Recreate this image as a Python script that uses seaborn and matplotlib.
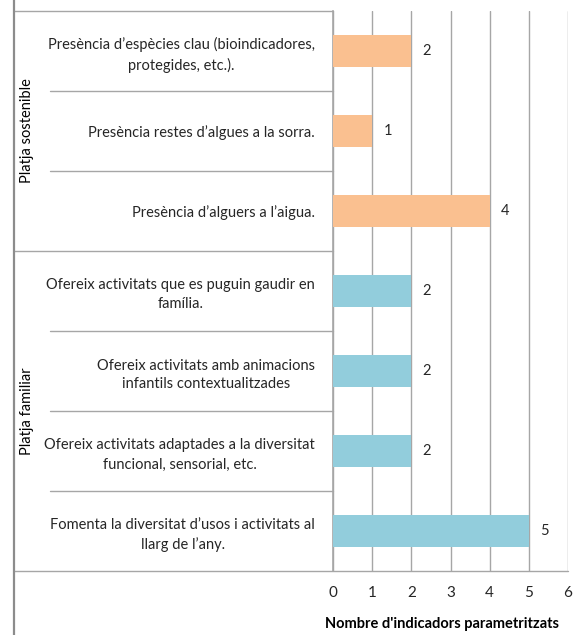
import numpy as np
import pandas as pd
import matplotlib
matplotlib.use("Agg")
import matplotlib.pyplot as plt
import matplotlib.transforms as mtransforms
from matplotlib.lines import Line2D
import seaborn as sns

# Data
categories = [
    "Presència d\u2019espècies clau (bioindicadores,\nprotegides, etc.).",
    "Presència restes d\u2019algues a la sorra.",
    "Presència d\u2019alguers a l\u2019aigua.",
    "Ofereix activitats que es puguin gaudir en\nfamília.",
    "Ofereix activitats amb animacions\ninfantils contextualitzades",
    "Ofereix activitats adaptades a la diversitat\nfuncional, sensorial, etc.",
    "Fomenta la diversitat d\u2019usos i activitats al\nllarg de l\u2019any.",
]
values = [2, 1, 4, 2, 2, 2, 5]
groups = ["Platja sostenible"] * 3 + ["Platja familiar"] * 4
group_names = ["Platja sostenible", "Platja familiar"]
x_ticks = [0, 1, 2, 3, 4, 5, 6]
x_label = "Nombre d'indicadors parametritzats"

df = pd.DataFrame({"categoria": categories, "valor": values, "grup": groups})

sns.set_style("white")
plt.rcParams['font.family'] = ['Lato', 'DejaVu Sans']
plt.rcParams['font.size'] = 10.5

grid_col = "#A6A6A6"
text_col = "#262626"

fig = plt.figure(figsize=(5.75, 6.35), dpi=100)
ax = fig.add_axes([333 / 575, 1 - 571 / 635, 235 / 575, 560 / 635])

sns.barplot(data=df, y="categoria", x="valor", hue="grup", orient="h",
            palette={"Platja sostenible": "#FAC090", "Platja familiar": "#92CDDC"},
            dodge=False, width=0.39, legend=False, saturation=1,
            linewidth=0, ax=ax, zorder=3)

for cont in ax.containers:
    ax.bar_label(cont, padding=8, fontsize=10.5, color=text_col)

ax.set_xlim(0, 6)
ax.set_ylim(len(categories) - 0.5, -0.5)
ax.set_xticks(x_ticks)
ax.set_xticklabels([str(t) for t in x_ticks], color=text_col)
ax.grid(axis="x", color=grid_col, linewidth=1, zorder=0)
ax.grid(axis="y", visible=False)
ax.set_axisbelow(True)
ax.set_ylabel("")
ax.set_xlabel(x_label, fontweight="bold", fontsize=10.5, color="black")
ax.xaxis.set_label_coords((442 - 333) / 235, -(624 - 571) / 560, transform=None)
ax.xaxis.label.set_va("center")
ax.tick_params(axis="x", length=4, color=grid_col, pad=7, labelsize=11)
ax.tick_params(axis="y", length=0, pad=13, labelsize=10.5, labelcolor=text_col)
for lab in ax.get_yticklabels():
    lab.set_multialignment("center")
    lab.set_linespacing(1.45)

for s in ["top", "right", "bottom"]:
    ax.spines[s].set_visible(False)
ax.spines["left"].set_color(grid_col)
ax.spines["left"].set_linewidth(1.2)

# separator lines in the label area
tr = mtransforms.blended_transform_factory(fig.transFigure, ax.transData)
x_outer = 14 / 575
x_inner = 50 / 575
x_axis = 333 / 575
x_end = 568 / 575
n = len(categories)
for i in range(n + 1):
    y = i - 0.5
    if i == 0 or i == 3:
        x0, x1 = x_outer, x_axis
    elif i == n:
        x0, x1 = x_outer, x_end
    else:
        x0, x1 = x_inner, x_axis
    ax.add_line(Line2D([x0, x1], [y, y], transform=tr, color=grid_col,
                       linewidth=1, clip_on=False))

fig.add_artist(Line2D([x_outer, x_outer], [0, 1], transform=fig.transFigure,
                      color="#8C8C8C", linewidth=1.6))

# group labels
for name in group_names:
    idx = [i for i, g in enumerate(groups) if g == name]
    yc = (idx[0] + idx[-1]) / 2
    ax.text(27 / 575, yc, name, transform=tr, rotation=90, ha="center",
            va="center", fontsize=10.5, color="black")

fig.savefig("out.png", dpi=100)
